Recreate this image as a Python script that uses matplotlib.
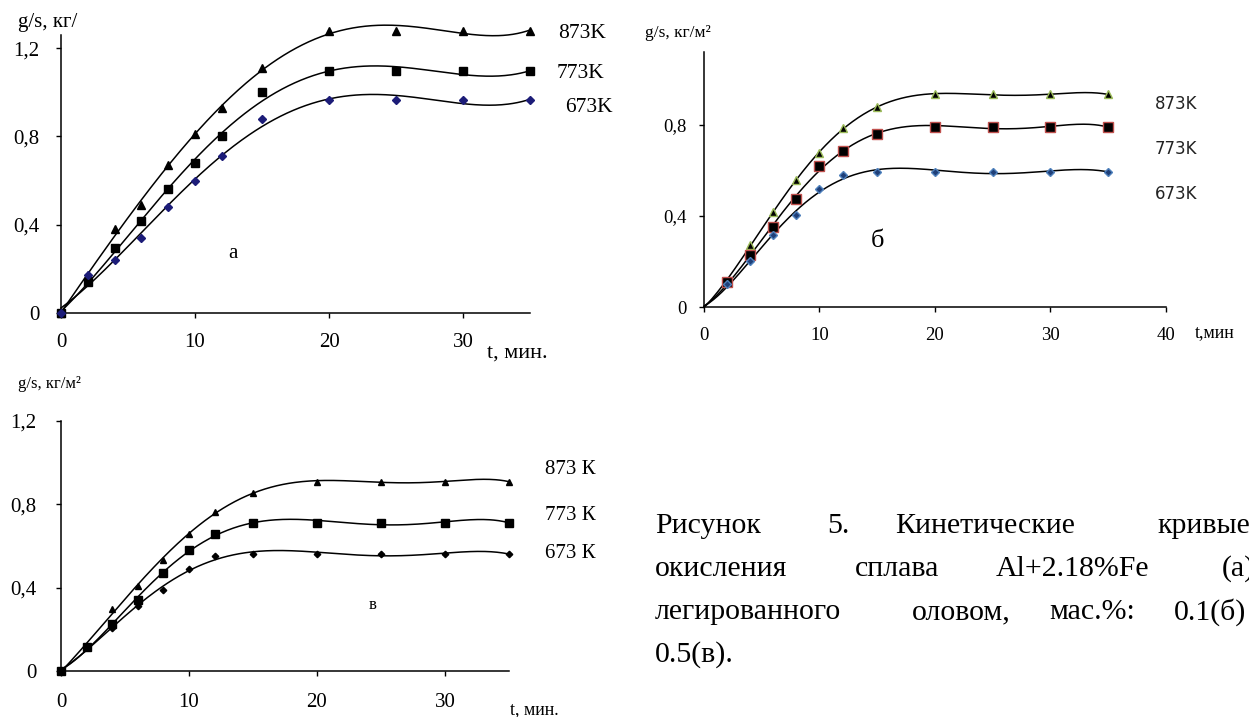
import matplotlib
matplotlib.use("Agg")
import matplotlib.pyplot as plt
import numpy as np

W, H = 1249, 717

# time points, min
t = [0, 2, 4, 6, 8, 10, 12, 15, 20, 25, 30, 35]

# panel a: Al+2.18%Fe
a_873 = [0, 0.17, 0.38, 0.49, 0.67, 0.81, 0.93, 1.11, 1.28, 1.28, 1.28, 1.28]
a_773 = [0, 0.14, 0.295, 0.415, 0.56, 0.68, 0.80, 1.00, 1.095, 1.095, 1.095, 1.095]
a_673 = [0, 0.17, 0.24, 0.34, 0.48, 0.60, 0.71, 0.88, 0.965, 0.965, 0.965, 0.965]

# panel б: + 0.1% Sn
b_873 = [0, 0.117, 0.275, 0.417, 0.556, 0.676, 0.787, 0.878, 0.933, 0.933, 0.933, 0.933]
b_773 = [0, 0.113, 0.227, 0.354, 0.475, 0.62, 0.687, 0.758, 0.79, 0.79, 0.79, 0.79]
b_673 = [0, 0.10, 0.205, 0.315, 0.405, 0.518, 0.578, 0.594, 0.594, 0.594, 0.594, 0.594]

# panel в: + 0.5% Sn
v_873 = [0, 0.117, 0.30, 0.408, 0.533, 0.66, 0.765, 0.853, 0.909, 0.909, 0.909, 0.909]
v_773 = [0, 0.114, 0.226, 0.34, 0.472, 0.58, 0.66, 0.709, 0.712, 0.712, 0.712, 0.712]
v_673 = [0, 0.114, 0.205, 0.314, 0.389, 0.491, 0.554, 0.562, 0.562, 0.562, 0.562, 0.562]

yticks_a = [0, 0.4, 0.8, 1.2]
yticks_b = [0, 0.4, 0.8]
xticks_ab = [0, 10, 20, 30]
xticks_b = [0, 10, 20, 30, 40]

SERIF = "Liberation Serif"


def px_rect(x0, x1, y_bottom, y_top):
    return [x0 / W, 1 - y_bottom / H, (x1 - x0) / W, (y_bottom - y_top) / H]


def comma(v):
    return ("%g" % v).replace(".", ",")


def trend(ax, x, y, deg):
    # polynomial trend line, like the spreadsheet one
    coef = np.polyfit(x, y, deg)
    xs = np.linspace(min(x), max(x), 300)
    ax.plot(xs, np.polyval(coef, xs), color="black", lw=1.1, zorder=2, clip_on=False)


def style_axes(ax, xlim, ylim, xticks, yticks, fs, xpad, ypad, tick_font=SERIF):
    ax.set_xlim(*xlim)
    ax.set_ylim(*ylim)
    for s in ("top", "right"):
        ax.spines[s].set_visible(False)
    for s in ("left", "bottom"):
        ax.spines[s].set_linewidth(1.1)
    ax.set_xticks(xticks)
    ax.set_yticks(yticks)
    ax.set_xticklabels([str(v) for v in xticks], fontfamily=tick_font, fontsize=fs)
    ax.set_yticklabels([comma(v) for v in yticks], fontfamily=tick_font, fontsize=fs)
    ax.tick_params(axis="x", direction="out", length=3.5, width=1, pad=xpad)
    ax.tick_params(axis="y", direction="out", length=3.5, width=1, pad=ypad)
    ax.patch.set_alpha(0)


fig = plt.figure(figsize=(W / 100, H / 100), dpi=100)

# ---- panel a
ax = fig.add_axes(px_rect(61, 530, 313, 35))
style_axes(ax, (0, 35), (0, 1.26), xticks_ab, yticks_a, 15, 11, 12)
for y, m, ms, c in [(a_873, "^", 5.5, "black"), (a_773, "s", 6, "black"), (a_673, "D", 3.6, "#1c1c78")]:
    trend(ax, t, y, 5)
    ax.plot(t, y, ls="none", marker=m, ms=ms, color=c, mec=c, clip_on=False, zorder=3)
fig.text(18 / W, 1 - 22 / H, "g/s, кг/", fontfamily=SERIF, fontsize=15, va="center", ha="left")
fig.text(487 / W, 1 - 353 / H, "t, мин.", fontfamily=SERIF, fontsize=16, va="center", ha="left")
for lbl, x, y in [("873K", 558, 34), ("773K", 557, 74), ("673K", 565, 108)]:
    fig.text(x / W, 1 - y / H, lbl, fontfamily=SERIF, fontsize=15.5, va="center", ha="left")
fig.text(233 / W, 1 - 253 / H, "а", fontfamily=SERIF, fontsize=15, va="center", ha="center")

# ---- panel б
ax = fig.add_axes(px_rect(704, 1165.7, 307.3, 51.7))
style_axes(ax, (0, 40), (0, 1.12), xticks_b, yticks_b, 13.5, 11, 9)
for y, m, ms, fc, ec in [(b_873, "^", 6, "black", "#9bbb59"),
                         (b_773, "s", 7, "black", "#c0504d"),
                         (b_673, "D", 4, "#1f3f78", "#4f81bd")]:
    trend(ax, t, y, 6)
    ax.plot(t[1:], y[1:], ls="none", marker=m, ms=ms, mfc=fc, mec=ec, mew=1, clip_on=False, zorder=3)
fig.text(645 / W, 1 - 33 / H, "g/s, кг/м²", fontfamily=SERIF, fontsize=12.5, va="center", ha="left")
fig.text(1195 / W, 1 - 333 / H, "t,мин", fontfamily=SERIF, fontsize=13, va="center", ha="left")
for lbl, y in [("873K", 104), ("773K", 149), ("673K", 194)]:
    fig.text(1155 / W, 1 - y / H, lbl, fontfamily="DejaVu Sans", fontsize=12, color="#222222",
             va="center", ha="left")
fig.text(877 / W, 1 - 241 / H, "б", fontfamily=SERIF, fontsize=19, va="center", ha="center")

# ---- panel в
ax = fig.add_axes(px_rect(61, 509, 671, 421))
style_axes(ax, (0, 35), (0, 1.2), xticks_ab, yticks_a, 15, 12, 14)
for y, m, ms in [(v_873, "^", 5), (v_773, "s", 5.5), (v_673, "D", 3.3)]:
    trend(ax, t, y, 6)
    ax.plot(t, y, ls="none", marker=m, ms=ms, color="black", clip_on=False, zorder=3)
fig.text(18 / W, 1 - 384 / H, "g/s, кг/м²", fontfamily=SERIF, fontsize=12, va="center", ha="left")
fig.text(510 / W, 1 - 710 / H, "t, мин.", fontfamily=SERIF, fontsize=13, va="center", ha="left")
for lbl, y in [("873 К", 470), ("773 К", 515), ("673 К", 554)]:
    fig.text(545 / W, 1 - y / H, lbl, fontfamily=SERIF, fontsize=15, va="center", ha="left")
fig.text(373 / W, 1 - 605 / H, "в", fontfamily=SERIF, fontsize=12, va="center", ha="center")

# ---- caption (justified lines, word by word)
caption = [
    (526, [("Рисунок", 655), ("5.", 827), ("Кинетические", 895), ("кривые", 1157)]),
    (569, [("окисления", 655), ("сплава", 855), ("Al+2.18%Fe", 996), ("(а)", 1222)]),
    (612, [("легированного", 655), ("оловом,", 912), ("мас.%:", 1049), ("0.1(б)", 1174)]),
    (655, [("0.5(в).", 655)]),
]
for y, words in caption:
    for w, x in words:
        fig.text(x / W, 1 - y / H, w, fontfamily=SERIF, fontsize=21.5, va="center", ha="left")

fig.savefig("out.png", dpi=100)
